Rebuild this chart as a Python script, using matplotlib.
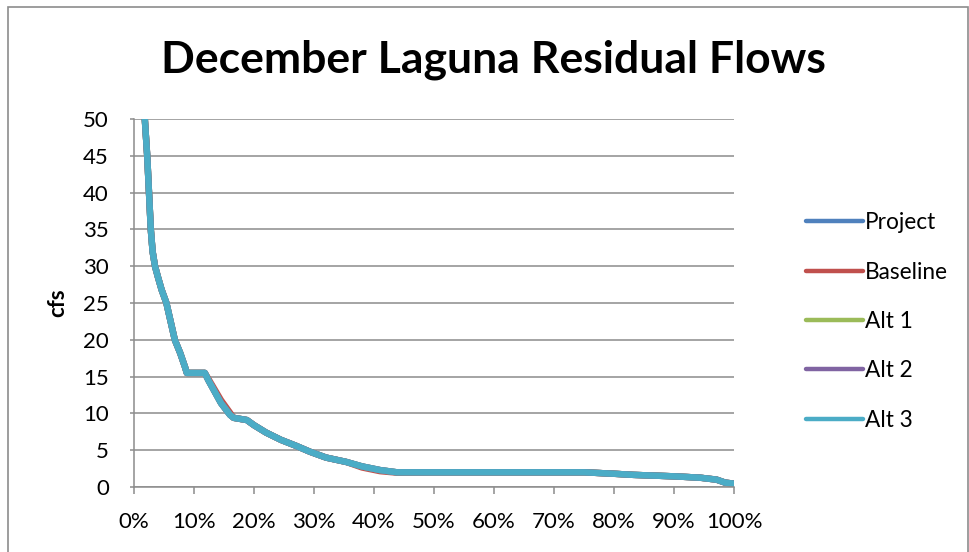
import matplotlib
matplotlib.use("Agg")
import matplotlib.pyplot as plt
from matplotlib.patches import Rectangle
from matplotlib.ticker import FuncFormatter

plt.rcParams['font.family'] = ['Lato', 'DejaVu Sans']

# === data: exceedance (%) vs flow (cfs) ===
pct = [1.8, 2.2, 2.5, 2.8, 3.1, 3.5, 4.0, 4.6, 5.4, 6.8, 7.7, 8.5, 8.8, 11.8, 12.4, 14.5, 16.0,
       16.6, 18.8, 20, 22, 24.5, 27, 29.3, 32, 35.4, 38, 41, 43.8,
       50, 60, 70, 75, 80, 83.2, 90, 94.3, 97.1, 98.5, 100]
alt3 = [50, 45, 40, 35, 32.0, 30.0, 28.5, 26.8, 25, 20, 18.2, 16.3, 15.5, 15.5, 14.5, 11.4, 9.8,
        9.4, 9.1, 8.4, 7.4, 6.4, 5.6, 4.8, 4.0, 3.4, 2.8, 2.3, 2.0,
        2.0, 2.0, 2.0, 2.0, 1.8, 1.65, 1.45, 1.27, 1.0, 0.6, 0.45]
baseline = [50, 45, 40, 35, 32.0, 30.0, 28.5, 26.8, 25, 20, 18.2, 16.3, 15.5, 15.5, 14.7, 11.8, 10.1,
            9.4, 9.1, 8.4, 7.4, 6.4, 5.6, 4.8, 4.0, 3.4, 2.65, 2.15, 1.95,
            2.0, 2.0, 2.0, 2.0, 1.8, 1.65, 1.45, 1.27, 1.0, 0.6, 0.45]
project = alt3
alt1 = alt3
alt2 = alt3

series = [("Project", project, "#4F81BD"),
          ("Baseline", baseline, "#C0504D"),
          ("Alt 1", alt1, "#9BBB59"),
          ("Alt 2", alt2, "#8064A2"),
          ("Alt 3", alt3, "#4BACC6")]

fig = plt.figure(figsize=(9.69, 5.52), dpi=100)
ax = fig.add_axes([134/969, 1-487/552, 600/969, 368/552])

for name, vals, col in series:
    ax.plot(pct, vals, color=col, lw=4.6, label=name,
            solid_capstyle='round', solid_joinstyle='round')

ax.set_xlim(0, 100)
ax.set_ylim(0, 50)
ax.set_xticks(range(0, 101, 10))
ax.set_yticks(range(0, 51, 5))
ax.xaxis.set_major_formatter(FuncFormatter(lambda v, p: f"{int(v)}%"))
ax.grid(axis='y', color='#8C8C8C', lw=1.1)
ax.set_axisbelow(True)
for s in ['top', 'right']:
    ax.spines[s].set_visible(False)
for s in ['left', 'bottom']:
    ax.spines[s].set_color('#8C8C8C')
    ax.spines[s].set_linewidth(1.1)
ax.tick_params(axis='x', length=5, width=1.1, color='#8C8C8C', pad=13, labelsize=16)
ax.tick_params(axis='y', length=3, width=1.1, color='#8C8C8C', pad=15, labelsize=16)
ax.set_ylabel("cfs", fontsize=16, fontweight='bold', labelpad=11)

fig.text(0.509, 0.891, "December Laguna Residual Flows", ha='center', va='center',
         fontsize=32, fontweight='bold')

leg = fig.legend(loc='center left', bbox_to_anchor=(786/969, 1-321.5/552),
                 frameon=False, fontsize=16.3, handlelength=2.5, handletextpad=0.1,
                 labelspacing=1.25)
for line in leg.get_lines():
    line.set_linewidth(3.2)

fig.patches.append(Rectangle((8/969, -0.01), 960/969, 1-7/552+0.01,
                             transform=fig.transFigure, fill=False,
                             edgecolor='#8C8C8C', lw=1.2))

fig.savefig("out.png", dpi=100)
